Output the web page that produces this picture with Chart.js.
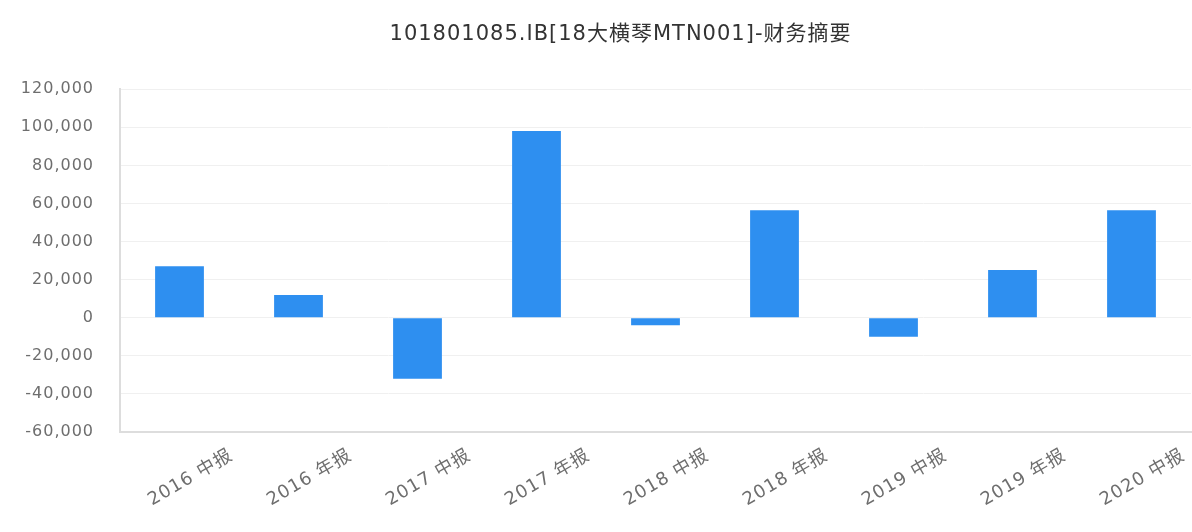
<!DOCTYPE html>
<html>
<head>
<meta charset="utf-8">
<script src="https://cdn.jsdelivr.net/npm/chart.js@4.4.1/dist/chart.umd.min.js"></script>
<style>
  html, body { margin: 0; padding: 0; background: #ffffff; }
  #wrap { width: 1192px; height: 532px; position: relative; }
</style>
</head>
<body>
<div id="wrap"><canvas id="c" width="1192" height="532"></canvas></div>
<script>
const titleText = '101801085.IB[18大横琴MTN001]-财务摘要';
const categories = ['2016 中报', '2016 年报', '2017 中报', '2017 年报', '2018 中报', '2018 年报', '2019 中报', '2019 年报', '2020 中报'];
const values = [27000, 12000, -32000, 98000, -4000, 56500, -10000, 25000, 56500];
const yMin = -60000;
const yMax = 120000;
const yStep = 20000;

const FONT = '"DejaVu Sans", "Noto Sans CJK SC", sans-serif';

const textTweaks = {
  id: 'textTweaks',
  beforeUpdate(chart) { chart.ctx.letterSpacing = '1px'; },
  beforeDraw(chart) { chart.ctx.letterSpacing = '1px'; },
  afterLayout(chart) {
    if (chart.titleBlock) { chart.titleBlock.left += 25; chart.titleBlock.right += 25; }
  }
};

new Chart(document.getElementById('c'), {
  type: 'bar',
  data: {
    labels: categories,
    datasets: [{
      data: values,
      backgroundColor: '#2e8ff0',
      borderWidth: 0,
      barPercentage: 0.41,
      categoryPercentage: 1.0
    }]
  },
  options: {
    responsive: false,
    animation: false,
    layout: { padding: { left: 0, right: 1, top: 0, bottom: 0 } },
    plugins: {
      legend: { display: false },
      tooltip: { enabled: false },
      title: {
        display: true,
        text: titleText,
        color: '#333333',
        font: { family: FONT, size: 21, weight: 'normal' },
        padding: { top: 22, bottom: 42 }
      }
    },
    scales: {
      x: {
        grid: { display: false },
        border: { display: true, color: '#dddddd', width: 2 },
        ticks: {
          color: '#6e6e6e',
          font: { family: FONT, size: 18 },
          minRotation: 30,
          maxRotation: 30,
          labelOffset: 52,
          padding: 5,
          autoSkip: false
        },
        afterFit(scale) { scale.height = 100; scale.paddingLeft = 0; scale.paddingRight = 0; }
      },
      y: {
        min: yMin,
        max: yMax,
        grid: { color: '#f0f0f0', drawTicks: false },
        border: { display: true, color: '#dddddd', width: 2 },
        ticks: {
          stepSize: yStep,
          color: '#6e6e6e',
          font: { family: FONT, size: 16 },
          padding: 26
        },
        afterFit(scale) { scale.width = 120; }
      }
    }
  },
  plugins: [textTweaks]
});
</script>
</body>
</html>
